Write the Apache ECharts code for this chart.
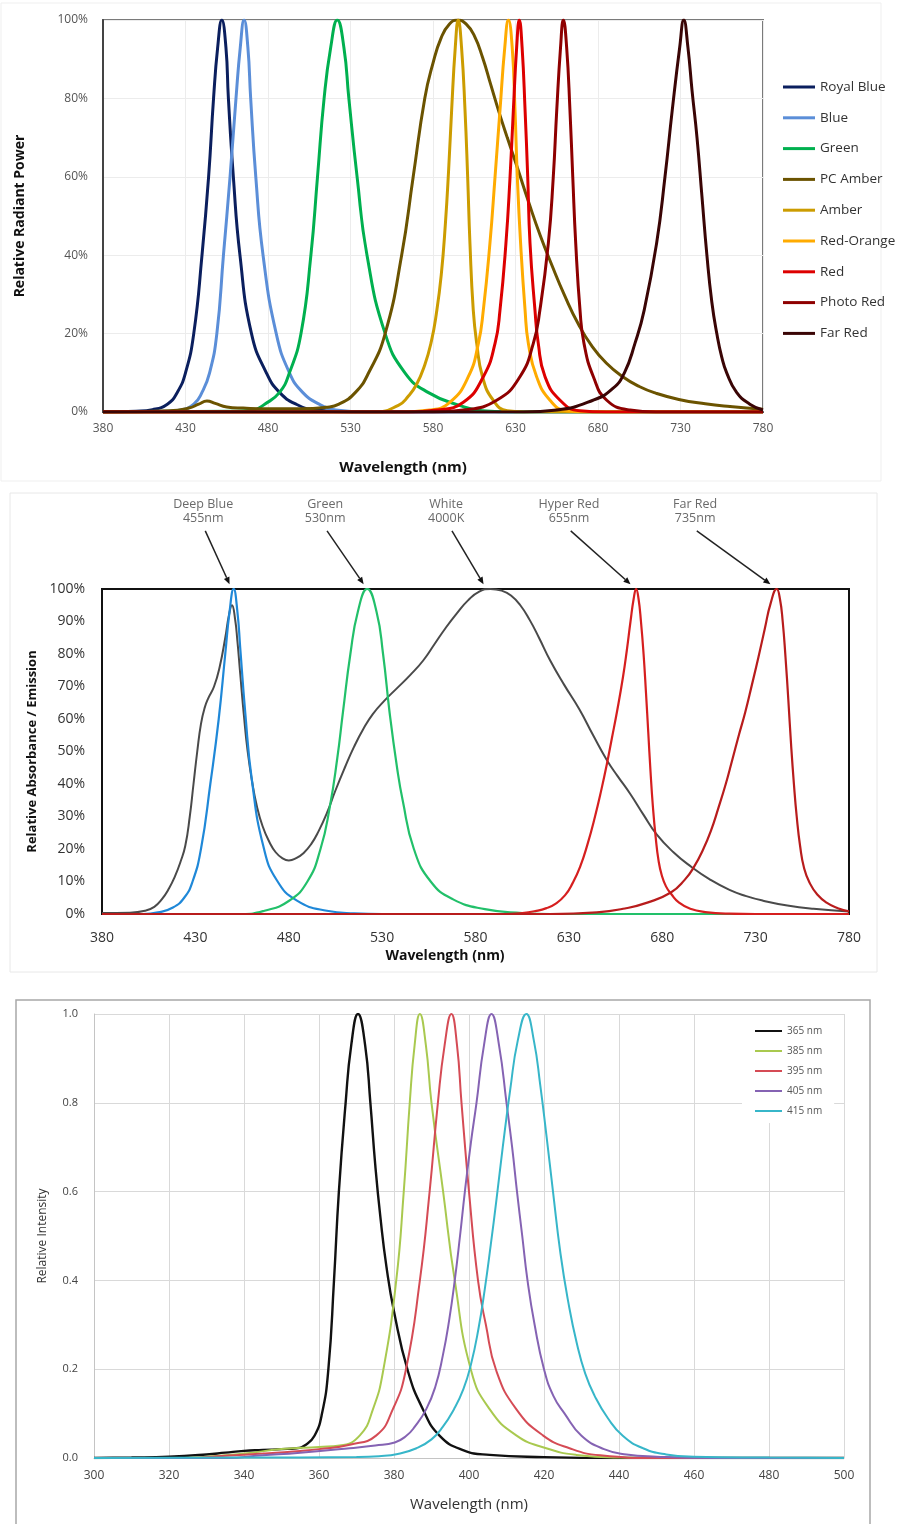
<!DOCTYPE html>
<html>
<head>
<meta charset="utf-8">
<title>LED spectra</title>
<script src="https://cdn.jsdelivr.net/npm/echarts@6.0.0/dist/echarts.min.js"></script>
<style>
    html, body { margin: 0; padding: 0; background: #fff; }
    #main { width: 909px; height: 1524px; }
</style>
</head>
<body>
<div id="main"></div>
<script>
// ---- data: [wavelength nm, value] ----

// plot 1 : relative radiant power (%)
var chart1Names = ['Royal Blue', 'Blue', 'Green', 'PC Amber', 'Amber', 'Red-Orange', 'Red', 'Photo Red', 'Far Red'];
var royalBlue = [[380,0],[400,0.2],[410,0.6],[419,2],[425,5],[430,10],[435,20],[440,40],[444,60],[447,80],[449.5,93],[452,100],[454.5,93],[456,80],[459,60],[463,40],[470,20],[479,10],[487,5],[497,2],[509,0.5],[530,0],[780,0]];
var blue = [[380,0],[420,0.2],[427,0.5],[435,2],[440,5],[444.6,10],[449,20],[453,40],[457,60],[460.6,80],[463.2,93],[465.5,100],[467.8,93],[469.5,80],[472.6,60],[477,40],[485,20],[493,10],[501,5],[511,2],[521,0.5],[540,0],[780,0]];
var green = [[380,0],[460,0.2],[471,0.5],[478,2],[487,5],[493,10],[500,20],[506,40],[510,60],[514,80],[518,93],[522,100],[526,93],[529,80],[534,60],[540,40],[551,20],[563,10],[577,5],[596,1.7],[610,0.3],[630,0],[780,0]];
var pcAmber = [[380,0],[420,0.3],[432,1],[438,2],[443,2.8],[448,2.2],[455,1.3],[465,1],[480,0.8],[500,0.8],[515,1.2],[523,2],[533,5],[541,10],[551,20],[561,40],[568,60],[575,80],[580,89],[585,95.5],[590,99],[595,100],[600,99],[605,96],[610,90.5],[615,83.5],[620,76.5],[625,70],[631,62.5],[638,53.5],[645,45],[652,37.5],[660,29.5],[668,22.5],[676,17],[685,12.5],[695,9],[705,6.5],[715,4.8],[729,3.2],[745,2.1],[760,1.4],[780,0.7]];
var amber = [[380,0],[545,0],[559,1.7],[565,4],[570,7],[575,12],[579,18],[582,25],[585,35],[587.5,48],[589.5,62],[591.3,77],[593.5,93],[595.3,100],[597.3,93],[599.4,77],[601,60],[602.4,43],[604.4,26],[606.5,17.5],[610,9],[616.5,3],[625,0.3],[635,0],[780,0]];
var redOrange = [[380,0],[560,0],[578,0.5],[590.3,2.5],[601.4,9],[607.5,17.5],[610.5,26],[614.5,43],[617.6,60],[620.6,77],[623.5,93],[625.7,100],[628,93],[629.7,77],[631.1,60],[633.1,43],[635.8,26],[637.8,17.5],[642.8,9],[650.9,3],[661,0.3],[675,0],[780,0]];
var red = [[380,0],[565,0],[582.2,0.5],[598.4,2.5],[610.5,9],[617.6,17.5],[620.6,26],[624.2,43],[626.7,60],[628.7,77],[630.7,93],[632.3,100],[634,93],[635.8,77],[637.4,60],[638.8,43],[641.8,26],[643.8,17.5],[647.9,9],[657,3],[669,0.3],[685,0],[780,0]];
var photoRed = [[380,0],[580,0],[598.4,0.5],[618.6,3],[632.7,9],[640.8,17.5],[644.8,26],[649.9,43],[652.9,60],[655,77],[657.3,93],[659,100],[661,93],[663,77],[664.7,60],[666.5,43],[669.1,26],[671.5,17.5],[677.2,9],[685.3,3],[699.4,0.5],[715,0],[780,0]];
var farRed = [[380,0],[635,0],[655,0.5],[677,3],[689,6],[696,10],[702.4,17.5],[708,26],[715.5,43],[720.6,60],[725,77],[729.5,93],[732,100],[734.5,93],[737,82],[740,70],[743,55],[746,40],[749,28],[752,20],[755,14],[758,10],[764,5],[772,2],[780,0.5]];

// plot 2 : relative absorbance / emission (%)
var deepBlue = [[380,0],[402,0],[410,0.5],[418,2],[424,5],[428.5,10],[433,20],[438,40],[442.5,60],[446,80],[448.3,93],[450.5,100],[452.5,93],[454,82],[456.7,62],[460.3,41],[466.5,20.6],[473.7,10.3],[484.4,4.1],[500.4,1],[515,0.2],[530,0],[780,0]];
var green530 = [[380,0],[455,0],[467,1],[480,4],[490,10],[497,20],[502,33],[506,48],[509,62],[513,80],[517,93],[522,100],[527,93],[530.5,80],[534,62],[538,45],[541,35],[547,20],[556,10],[568,4.5],[585,1.5],[605,0.3],[620,0],[780,0]];
var white4000 = [[380,0.3],[395,0.4],[403,1],[408,2.2],[412,4.5],[416,8],[419,11.5],[422,16],[424.6,21],[427,30],[429,40],[431,50],[433,58.5],[435,63.5],[437,66.5],[440,70],[443,76],[446,85],[448,92],[449.6,95],[451.2,91],[452.5,84],[454,74],[456,61],[458,50],[460.3,41],[463,33],[466,27],[469.5,22.3],[473,19],[476.5,17.2],[480,16.5],[484,17.2],[488,18.8],[492,21.5],[496,25.5],[500.4,31],[505,38],[510,45],[515,51.5],[520,57],[525,61.5],[531,65.5],[538,69.5],[545,73.5],[552,78],[558,83],[564,88],[570,92.5],[576,96.5],[582,99.2],[588,100],[594,99.5],[599,98],[604,95],[609,90.5],[614,85],[620,78],[627.5,70.5],[635.6,63],[643,55],[650.3,47.4],[656,42.5],[662.8,37],[670,30.5],[677,24.5],[686,19],[695.8,14.4],[705,10.8],[716,7.4],[725,5.5],[734,4.1],[747,2.6],[761,1.6],[780,0.8]];
var hyperRed = [[380,0],[595,0],[605,0.3],[612,0.9],[618,1.8],[623,3.2],[628,5.8],[632,9.5],[636,14.5],[640,21.5],[644,30],[647.5,38.5],[650.3,46],[653,54],[656,63],[659,73],[661,81],[663,90],[664.7,97],[666,100],[667.3,97],[668.6,90],[670,80],[671.3,68],[672.5,56],[673.7,44],[675,33],[676.5,23.5],[678,16.5],[679.7,12],[682,8.5],[685,6],[689,3.5],[695,1.6],[703,0.6],[716,0.1],[730,0],[780,0]];
var farRed735 = [[380,0],[620,0],[645,0.5],[660,1.7],[672,3.5],[684.6,6.6],[692,10.5],[697,14.5],[702,20],[706,25.5],[710,32.5],[714,40],[717.3,47],[721,55],[724.4,62],[728,70.5],[731.5,79],[735,88],[738,95.5],[741.3,100],[743,97],[744.5,90],[746,79],[747.5,66],[749,52],[750.5,40],[752,30],[753.8,21],[756,14],[759,9.5],[763,6],[768,3.5],[774,1.8],[780,0.8]];

// callouts above plot 2
var annoLabels = ['Deep Blue\n455nm', 'Green\n530nm', 'White\n4000K', 'Hyper Red\n655nm', 'Far Red\n735nm'];
var annoTextNm = [434.2, 499.5, 564.3, 630.1, 697.6];
var annoStartNm = [435.3, 500.5, 567.4, 631, 698.5];
var annoTipNm = [448.3, 520.1, 584.3, 663, 737.9];

// plot 3 : relative intensity (0..1)
var chart3Names = ['365 nm', '385 nm', '395 nm', '405 nm', '415 nm'];
var uv365 = [[300,0],[310,0.001],[320,0.003],[330,0.008],[335,0.012],[340,0.016],[345,0.018],[350,0.02],[354,0.022],[356.5,0.03],[358.8,0.05],[360.8,0.1],[362.5,0.2],[364,0.4],[365.3,0.6],[367.1,0.8],[368.6,0.93],[370.4,1],[372.3,0.93],[373.7,0.8],[375,0.66],[376.4,0.54],[378,0.43],[380,0.33],[383.7,0.196],[387.7,0.11],[392.2,0.05],[398.4,0.018],[405.5,0.007],[420,0.002],[440,0],[500,0]];
var uv385 = [[300,0],[320,0],[330,0.003],[340,0.01],[350,0.02],[360,0.025],[365.5,0.028],[370.9,0.051],[374.4,0.11],[377.1,0.196],[380.6,0.4],[382.6,0.6],[384.2,0.8],[385.5,0.93],[386.9,1],[388.5,0.93],[390,0.8],[393.1,0.6],[396.2,0.4],[400.6,0.196],[405.5,0.11],[412.6,0.051],[420.6,0.022],[428.6,0.007],[440,0.001],[460,0],[500,0]];
var uv395 = [[300,0],[325,0],[335,0.005],[345,0.01],[355,0.016],[360,0.02],[368.2,0.03],[375.3,0.051],[379.7,0.11],[383.1,0.196],[386.9,0.4],[389.5,0.6],[391.7,0.8],[393.5,0.93],[395.3,1],[396.8,0.93],[398,0.8],[400,0.6],[402.4,0.4],[404.5,0.3],[407.3,0.196],[412.6,0.11],[419.7,0.051],[426.8,0.022],[435,0.006],[450,0],[500,0]];
var uv405 = [[300,0],[335,0],[345,0.006],[355,0.012],[368.2,0.022],[375,0.028],[380.2,0.035],[383.3,0.05],[385.5,0.07],[388.6,0.11],[391,0.16],[393,0.23],[394.7,0.31],[396.2,0.4],[397.6,0.5],[398.9,0.6],[400.5,0.71],[402,0.8],[404,0.93],[406,1],[408,0.93],[410,0.8],[411.5,0.7],[412.8,0.6],[414.2,0.5],[415.6,0.4],[417.5,0.3],[420,0.2],[422.5,0.14],[425.5,0.1],[430,0.05],[436,0.02],[442,0.008],[450,0.003],[465,0],[500,0]];
var uv415 = [[300,0],[340,0.001],[370,0.002],[376,0.004],[381,0.009],[386,0.022],[390,0.042],[393,0.07],[396,0.11],[398.5,0.155],[400.5,0.21],[402.5,0.29],[404.2,0.38],[405.8,0.48],[407.3,0.58],[409,0.7],[411,0.83],[413,0.94],[415.3,1],[417.3,0.94],[419,0.84],[420.6,0.73],[422.4,0.6],[424.4,0.46],[426.5,0.35],[428.7,0.26],[431,0.19],[433.5,0.14],[437,0.09],[441,0.05],[446.4,0.022],[452.6,0.008],[460,0.003],[480,0.001],[500,0]];

// ---- chart ----
var FONT = '"Open Sans", "DejaVu Sans", sans-serif';
var X0 = 380; // plots 1 and 2 run 380..780 with 50 nm ticks, so the axis is offset by 380

var chart = echarts.init(document.getElementById('main'));

/**
 * shift the wavelength so the axis can start at 0
 */
function shift(points, off) {
    return points.map(function (p) { return [p[0] - off, p[1]]; });
}

/**
 * one spectrum line
 */
function spectrum(name, points, color, width, idx, off) {
    return {
        type: 'line',
        name: name,
        xAxisIndex: idx,
        yAxisIndex: idx,
        data: shift(points, off),
        color: color,
        symbol: 'none',
        showSymbol: false,
        smooth: 0.5,
        lineStyle: { color: color, width: width },
        emphasis: { disabled: true },
        animation: false
    };
}

var series = [
    spectrum('Royal Blue', royalBlue, '#0b1f5e', 3, 0, X0),
    spectrum('Blue', blue, '#5b8ed8', 3, 0, X0),
    spectrum('Green', green, '#00b04f', 3, 0, X0),
    spectrum('PC Amber', pcAmber, '#6b5300', 3, 0, X0),
    spectrum('Amber', amber, '#cc9c00', 3, 0, X0),
    spectrum('Red-Orange', redOrange, '#ffab00', 3, 0, X0),
    spectrum('Red', red, '#dd0000', 3, 0, X0),
    spectrum('Photo Red', photoRed, '#8e0000', 3, 0, X0),
    spectrum('Far Red', farRed, '#3a0505', 3, 0, X0),

    spectrum('White 4000K', white4000, '#4a4a4a', 2, 1, X0),
    spectrum('Deep Blue 455nm', deepBlue, '#1f88d8', 2.2, 1, X0),
    spectrum('Green 530nm', green530, '#22c06a', 2.2, 1, X0),
    spectrum('Hyper Red 655nm', hyperRed, '#d61f1f', 2.2, 1, X0),
    spectrum('Far Red 735nm', farRed735, '#b81c1c', 2.2, 1, X0),

    spectrum('365 nm', uv365, '#111111', 2.4, 2, 0),
    spectrum('385 nm', uv385, '#a9c94f', 2, 2, 0),
    spectrum('395 nm', uv395, '#d54b55', 2, 2, 0),
    spectrum('405 nm', uv405, '#8563b3', 2, 2, 0),
    spectrum('415 nm', uv415, '#37b6c9', 2, 2, 0)
];

var option = {
    backgroundColor: '#fff',
    animation: false,
    grid: [
        { left: 103, top: 20, width: 660, height: 392, show: true, borderColor: '#7a7a7a', borderWidth: 2 },
        { left: 102, top: 589, width: 747, height: 325, show: true, borderColor: '#111', borderWidth: 2 },
        { left: 94, top: 1014, width: 750, height: 444 }
    ],
    xAxis: [
        {
            gridIndex: 0, type: 'value', min: 0, max: 400, interval: 50,
            axisLine: { onZero: false, lineStyle: { color: '#444', width: 2 } },
            axisTick: { show: false },
            splitLine: { show: true, lineStyle: { color: '#ececec' } },
            axisLabel: { margin: 11, color: '#555', fontSize: 12, fontFamily: FONT, formatter: function (v) { return v + X0; } },
            name: 'Wavelength (nm)', nameLocation: 'middle', nameGap: 48,
            nameTextStyle: { fontWeight: 'bold', fontSize: 15, color: '#111', fontFamily: FONT, padding: [0, 60, 0, 0] }
        },
        {
            gridIndex: 1, type: 'value', min: 0, max: 400, interval: 50,
            axisLine: { onZero: false, lineStyle: { color: '#111', width: 2 } },
            axisTick: { show: false },
            splitLine: { show: false },
            axisLabel: { margin: 17, color: '#333', fontSize: 14, fontFamily: FONT, formatter: function (v) { return v + X0; } },
            name: 'Wavelength (nm)', nameLocation: 'middle', nameGap: 35,
            nameTextStyle: { fontWeight: 'bold', fontSize: 14, color: '#111', fontFamily: FONT, padding: [0, 61, 0, 0] }
        },
        {
            gridIndex: 2, type: 'value', min: 300, max: 500, interval: 20,
            axisLine: { onZero: false, lineStyle: { color: '#c4c4c4', width: 1 } },
            axisTick: { show: false },
            splitLine: { show: true, lineStyle: { color: '#d9d9d9' } },
            axisLabel: { margin: 12, color: '#444', fontSize: 12, fontFamily: FONT },
            name: 'Wavelength (nm)', nameLocation: 'middle', nameGap: 39,
            nameTextStyle: { fontSize: 15, color: '#333', fontFamily: FONT }
        }
    ],
    yAxis: [
        {
            gridIndex: 0, type: 'value', min: 0, max: 100, interval: 20,
            axisLine: { show: true, lineStyle: { color: '#444', width: 2 } },
            axisTick: { show: false },
            splitLine: { show: true, lineStyle: { color: '#ececec' } },
            axisLabel: { margin: 15, color: '#555', fontSize: 12, fontFamily: FONT, formatter: '{value}%' },
            name: 'Relative Radiant Power', nameLocation: 'middle', nameGap: 76,
            nameTextStyle: { fontWeight: 'bold', fontSize: 14, color: '#111', fontFamily: FONT }
        },
        {
            gridIndex: 1, type: 'value', min: 0, max: 100, interval: 10,
            axisLine: { show: true, lineStyle: { color: '#111', width: 2 } },
            axisTick: { show: false },
            splitLine: { show: false },
            axisLabel: { margin: 17, color: '#333', fontSize: 14, fontFamily: FONT, formatter: '{value}%' },
            name: 'Relative Absorbance / Emission', nameLocation: 'middle', nameGap: 60,
            nameTextStyle: { fontWeight: 'bold', fontSize: 13, color: '#111', fontFamily: FONT }
        },
        {
            gridIndex: 2, type: 'value', min: 0, max: 1, interval: 0.2,
            axisLine: { show: true, lineStyle: { color: '#c4c4c4', width: 1 } },
            axisTick: { show: false },
            splitLine: { show: true, lineStyle: { color: '#d9d9d9' } },
            axisLabel: { margin: 16, color: '#444', fontSize: 11, fontFamily: FONT, formatter: function (v) { return v.toFixed(1); } },
            name: 'Relative Intensity', nameLocation: 'middle', nameGap: 45,
            nameTextStyle: { fontSize: 12, color: '#333', fontFamily: FONT }
        }
    ],
    legend: [
        {
            data: chart1Names, orient: 'vertical', left: 783, top: 80, padding: 0,
            itemGap: 16.8, itemWidth: 32, itemHeight: 3, icon: 'rect', selectedMode: false,
            textStyle: { fontSize: 13.5, lineHeight: 14, color: '#333', fontFamily: FONT }
        },
        {
            data: chart3Names, orient: 'vertical', left: 742, top: 1015, padding: [10, 12, 6, 13],
            backgroundColor: '#fff', itemGap: 8, itemWidth: 27, itemHeight: 2, icon: 'rect', selectedMode: false,
            textStyle: { fontSize: 10, lineHeight: 12, color: '#555', fontFamily: FONT }
        }
    ],
    series: series
};

chart.setOption(option);

/**
 * panel frames and the callout arrows of plot 2
 */
function buildGraphic() {
    var g = [
        { type: 'rect', shape: { x: 1, y: 3, width: 880, height: 478 }, style: { fill: 'none', stroke: '#efefef', lineWidth: 1 }, silent: true },
        { type: 'rect', shape: { x: 10, y: 493, width: 867, height: 479 }, style: { fill: 'none', stroke: '#e8e8e8', lineWidth: 1 }, silent: true },
        { type: 'rect', shape: { x: 16, y: 1000, width: 854, height: 540 }, style: { fill: 'none', stroke: '#a8a8a8', lineWidth: 1.5 }, silent: true }
    ];
    for (var i = 0; i < annoLabels.length; i++) {
        var t = chart.convertToPixel({ gridIndex: 1 }, [annoTextNm[i] - X0, 124]);
        var s = chart.convertToPixel({ gridIndex: 1 }, [annoStartNm[i] - X0, 117.9]);
        var e = chart.convertToPixel({ gridIndex: 1 }, [annoTipNm[i] - X0, 101.5]);
        var dx = e[0] - s[0], dy = e[1] - s[1];
        var len = Math.sqrt(dx * dx + dy * dy);
        dx /= len; dy /= len;
        var bx = e[0] - dx * 7, by = e[1] - dy * 7;
        g.push({
            type: 'text', x: t[0], y: t[1], silent: true,
            style: {
                text: annoLabels[i], fill: '#6a6a6a', fontSize: 12.5, fontFamily: FONT, lineHeight: 14,
                align: 'center', verticalAlign: 'middle', textAlign: 'center', textVerticalAlign: 'middle'
            }
        });
        g.push({ type: 'line', silent: true, shape: { x1: s[0], y1: s[1], x2: bx, y2: by }, style: { stroke: '#222', lineWidth: 1.5 } });
        g.push({
            type: 'polygon', silent: true,
            shape: { points: [[e[0], e[1]], [bx - dy * 3, by + dx * 3], [bx + dy * 3, by - dx * 3]] },
            style: { fill: '#111' }
        });
    }
    return g;
}

chart.setOption({ graphic: buildGraphic() });
</script>
</body>
</html>
